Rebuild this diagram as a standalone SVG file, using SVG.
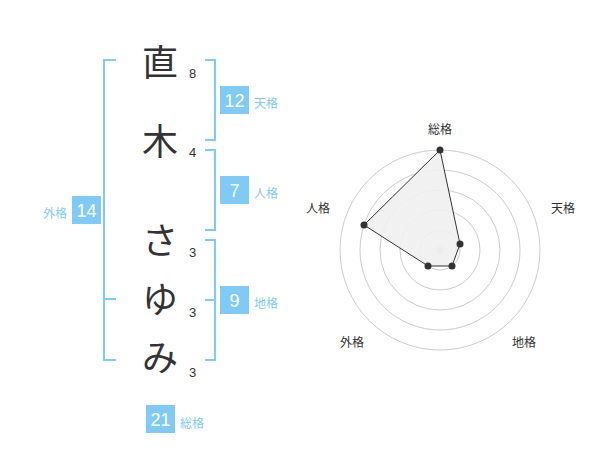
<svg xmlns="http://www.w3.org/2000/svg" width="600" height="470" viewBox="0 0 600 470">
<style>
.br{fill:none;stroke:#7fcbf5;stroke-width:2}
.bx{fill:#7fcbf5}
.bn{font-family:"Liberation Sans",sans-serif;font-size:18px;fill:#fff;text-anchor:middle}
.lb{font-family:"Noto Sans CJK JP",sans-serif;font-size:12px;fill:#7fcbf5}
.ch{font-family:"Noto Sans CJK JP",sans-serif;font-size:36px;fill:#333;text-anchor:middle}
.n{font-family:"Liberation Sans",sans-serif;font-size:13px;fill:#333}
.rl{font-family:"Noto Sans CJK JP",sans-serif;font-size:12px;fill:#333;text-anchor:middle}
.ring{fill:none;stroke:#ccc;stroke-width:1}
</style>
<rect width="600" height="470" fill="#fff"/>
<g id="connectors">
<path class="br" d="M116,60H104V360H116M104,299H116"/>
<path class="br" d="M205,60H215V140H205"/>
<path class="br" d="M205,150H215V230H205"/>
<path class="br" d="M205,240H215V360H205M205,300H215"/>
</g>
<g id="chars">
<text class="ch" x="160" y="76">直</text><text class="n" x="189" y="78">8</text>
<text class="ch" x="160" y="155">木</text><text class="n" x="189" y="157">4</text>
<text class="ch" x="160" y="254">さ</text><text class="n" x="189" y="257">3</text>
<text class="ch" x="160" y="313">ゆ</text><text class="n" x="189" y="317">3</text>
<text class="ch" x="160" y="371">み</text><text class="n" x="189" y="377">3</text>
</g>
<g id="tenkaku"><rect class="bx" x="220" y="86" width="29" height="28"/><text class="bn" x="234.5" y="107">12</text><text class="lb" x="254" y="108">天格</text></g>
<g id="jinkaku"><rect class="bx" x="220" y="176" width="29" height="28"/><text class="bn" x="234.5" y="197">7</text><text class="lb" x="254" y="198">人格</text></g>
<g id="chikaku"><rect class="bx" x="220" y="286" width="29" height="28"/><text class="bn" x="234.5" y="307">9</text><text class="lb" x="254" y="308">地格</text></g>
<g id="gaikaku"><rect class="bx" x="72" y="196" width="29" height="28"/><text class="bn" x="86.5" y="217">14</text><text class="lb" x="67" y="218" text-anchor="end">外格</text></g>
<g id="soukaku"><rect class="bx" x="146" y="405" width="29" height="28"/><text class="bn" x="160.5" y="426">21</text><text class="lb" x="180" y="428">総格</text></g>
<g id="radar">
<circle class="ring" cx="440" cy="250" r="20"/><circle class="ring" cx="440" cy="250" r="40"/><circle class="ring" cx="440" cy="250" r="60"/><circle class="ring" cx="440" cy="250" r="80"/><circle class="ring" cx="440" cy="250" r="100"/>
<circle cx="440" cy="250" r="3.5" fill="#ccc"/>
<polygon points="440,150 460,244 452,266 428,266 364,225" fill="#f0f0f0" fill-opacity="0.9" stroke="#333" stroke-width="1"/>
<g fill="#333"><circle cx="440" cy="150" r="3.5"/><circle cx="460" cy="244" r="3.5"/><circle cx="452" cy="266" r="3.5"/><circle cx="428" cy="266" r="3.5"/><circle cx="364" cy="225" r="3.5"/></g>
<text class="rl" x="440" y="134">総格</text><text class="rl" x="563" y="213">天格</text><text class="rl" x="524" y="347">地格</text><text class="rl" x="352" y="347">外格</text><text class="rl" x="318" y="213">人格</text>
</g>
</svg>
